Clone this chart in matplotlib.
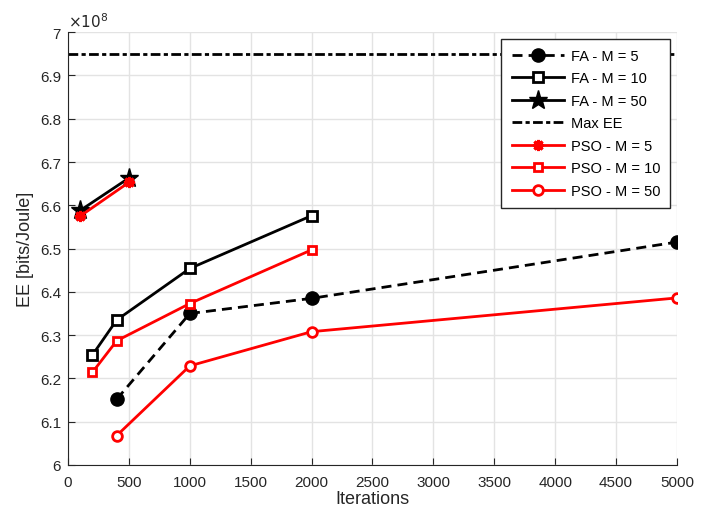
import matplotlib
matplotlib.use("Agg")
import matplotlib.pyplot as plt

plt.rcParams['font.family'] = ['Liberation Sans', 'DejaVu Sans']

fa5_x = [400, 1000, 2000, 5000]
fa5_y = [6.152e8, 6.350e8, 6.385e8, 6.515e8]
fa10_x = [200, 400, 1000, 2000]
fa10_y = [6.254e8, 6.335e8, 6.454e8, 6.576e8]
fa50_x = [100, 500]
fa50_y = [6.588e8, 6.663e8]
max_ee = 6.95e8
pso5_x = [100, 500]
pso5_y = [6.575e8, 6.653e8]
pso10_x = [200, 400, 1000, 2000]
pso10_y = [6.214e8, 6.287e8, 6.373e8, 6.497e8]
pso50_x = [400, 1000, 2000, 5000]
pso50_y = [6.068e8, 6.229e8, 6.308e8, 6.386e8]

xticks = [0, 500, 1000, 1500, 2000, 2500, 3000, 3500, 4000, 4500, 5000]
yticks = [6.0e8, 6.1e8, 6.2e8, 6.3e8, 6.4e8, 6.5e8, 6.6e8, 6.7e8, 6.8e8, 6.9e8, 7.0e8]
ytick_labels = ['6', '6.1', '6.2', '6.3', '6.4', '6.5', '6.6', '6.7', '6.8', '6.9', '7']

fig = plt.figure(figsize=(7.16, 5.10), dpi=100)
ax = fig.add_axes([0.095, 0.0863, 0.8505, 0.8487])

lw = 2.0
ax.plot(fa5_x, fa5_y, 'k--', marker='o', markersize=9.5, lw=lw, label='FA - M = 5', dashes=(3.6, 2.2))
ax.plot(fa10_x, fa10_y, 'k-', marker='s', markersize=7, markerfacecolor='white', mew=2, lw=lw, label='FA - M = 10')
ax.plot(fa50_x, fa50_y, 'k-', marker='*', markersize=14, lw=lw, label='FA - M = 50')
ax.axhline(max_ee, color='k', ls='-.', lw=lw, label='Max EE', dashes=(3.5, 1.2, 1.5, 1.2))
ax.plot(pso5_x, pso5_y, 'r-', marker=(8, 2, 0), markersize=8, mew=2.2, lw=lw, label='PSO - M = 5')
ax.plot(pso10_x, pso10_y, 'r-', marker='s', markersize=6, markerfacecolor='white', mew=2, lw=lw, label='PSO - M = 10')
ax.plot(pso50_x, pso50_y, 'r-', marker='o', markersize=7, markerfacecolor='white', mew=2, lw=lw, label='PSO - M = 50')

ax.set_xlim(0, 5000)
ax.set_ylim(6.0e8, 7.0e8)
ax.set_xticks(xticks)
ax.set_yticks(yticks)
ax.set_yticklabels(ytick_labels)
ax.grid(True, color='#e3e3e3', lw=1)
ax.set_axisbelow(True)
for s in ['top', 'right']:
    ax.spines[s].set_visible(False)
for s in ['left', 'bottom']:
    ax.spines[s].set_color('#262626')
ax.tick_params(direction='in', colors='#262626', labelsize=11, length=5)
ax.tick_params(axis='x', pad=7)
ax.tick_params(axis='y', pad=5)
ax.text(0.0, 1.005, r'$\times 10^8$', transform=ax.transAxes, fontsize=11, color='#262626',
        ha='left', va='bottom')
ax.set_xlabel('Iterations', fontsize=13, color='#262626', labelpad=1)
ax.set_ylabel('EE [bits/Joule]', fontsize=13, color='#262626', labelpad=4)

leg = ax.legend(loc='upper right', bbox_to_anchor=(1.0, 1.0), borderaxespad=0.45, fontsize=10.5,
                handlelength=3.6, fancybox=False, edgecolor='#262626', framealpha=1, borderpad=0.7,
                labelspacing=0.58, handletextpad=0.45)
leg.get_frame().set_linewidth(1)

fig.savefig('out.png', dpi=100)
